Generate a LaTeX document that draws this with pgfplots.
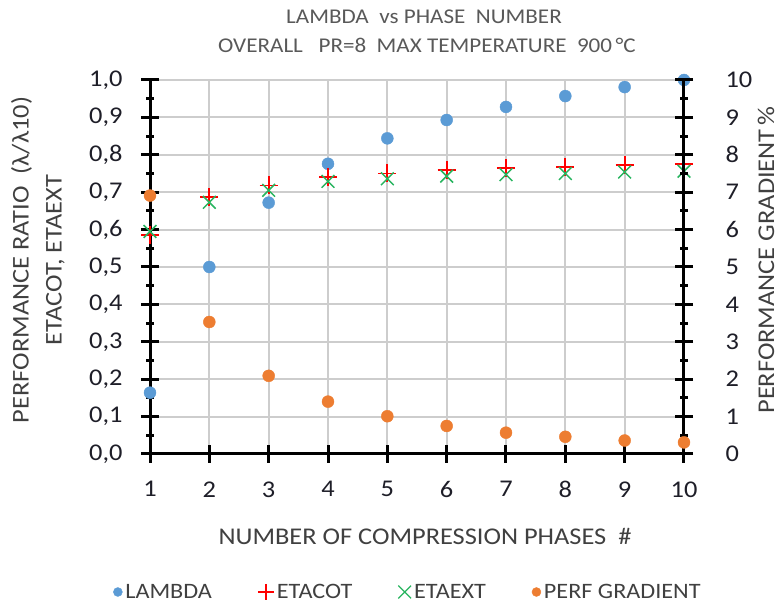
\documentclass[border=0pt]{standalone}
\usepackage{fontspec}
\setmainfont{Carlito}[FakeStretch=1.1]
\usepackage{pgfplots}
\pgfplotsset{compat=1.18}
\definecolor{lamblue}{RGB}{91,155,213}
\definecolor{perforange}{RGB}{237,125,49}
\definecolor{cotred}{RGB}{255,0,0}
\definecolor{extgreen}{RGB}{40,180,95}
\definecolor{gridgray}{RGB}{205,205,205}
\definecolor{titlecol}{RGB}{89,89,89}
\definecolor{labcol}{RGB}{64,64,64}
\definecolor{tickcol}{RGB}{30,30,40}

\begin{document}
\begin{tikzpicture}
% left axis: ratios
\begin{axis}[
  scale only axis,
  width=534pt, height=374pt,
  at={(150pt,150pt)}, anchor=south west,
  xmin=1, xmax=10, clip=false,
  axis x line*=bottom, axis y line*=left,
  axis line style={line width=3pt},
  tick style={line width=3pt, color=black},
  tick align=center, major tick length=18pt, minor tick length=8pt,
  ymin=0, ymax=1,
  xtick={1,2,3,4,5,6,7,8,9,10},
  ytick={0,0.1,0.2,0.3,0.4,0.5,0.6,0.7,0.8,0.9,1.0},
  minor ytick={0.05,0.15,0.25,0.35,0.45,0.55,0.65,0.75,0.85,0.95},
  grid=major, grid style={line width=2pt, gridgray},
  tick label style={font=\fontsize{24}{28}\selectfont, text=tickcol},
  xticklabel style={yshift=-15pt, /pgf/number format/assume math mode=true},
  yticklabel style={xshift=-15pt, /pgf/number format/.cd, fixed, fixed zerofill, precision=1, use comma, assume math mode=true},
  legend columns=4,
  legend style={draw=none, fill=none, font=\fontsize{22}{26}\selectfont, text=labcol,
    at={(axis description cs:0.5,0)}, anchor=center, yshift=-138pt, xshift=-9pt,
    /tikz/every even column/.append style={column sep=44pt},
    /tikz/every odd column/.append style={column sep=1pt}},
]
\addplot[forget plot, only marks, mark=*, mark size=6pt, color=lamblue]
  coordinates {(1,0.164)(2,0.500)(3,0.672)(4,0.776)(5,0.844)(6,0.893)(7,0.928)(8,0.957)(9,0.981)(10,1.000)};
\addplot[forget plot, only marks, mark=+, mark size=9pt, line width=1.8pt, color=cotred]
  coordinates {(1,0.585)(2,0.687)(3,0.718)(4,0.740)(5,0.750)(6,0.760)(7,0.764)(8,0.768)(9,0.773)(10,0.775)};
\addplot[forget plot, only marks, mark=x, mark size=9pt, line width=1.5pt, color=extgreen]
  coordinates {(1,0.595)(2,0.673)(3,0.705)(4,0.729)(5,0.736)(6,0.743)(7,0.747)(8,0.750)(9,0.754)(10,0.756)};
\addlegendimage{only marks, mark=*, mark size=4.5pt, color=lamblue}
\addlegendimage{only marks, mark=+, mark size=8pt, line width=1.2pt, color=cotred}
\addlegendimage{only marks, mark=x, mark size=9pt, line width=1.2pt, color=extgreen}
\addlegendimage{only marks, mark=*, mark size=4.5pt, color=perforange}
\legend{LAMBDA, ETACOT, ETAEXT, PERF GRADIENT}
\end{axis}
% right axis: performance gradient
\begin{axis}[
  scale only axis,
  width=534pt, height=374pt,
  at={(150pt,150pt)}, anchor=south west,
  xmin=1, xmax=10, clip=false,
  axis x line=none, axis y line*=right,
  axis line style={line width=3pt},
  tick style={line width=3pt, color=black},
  tick align=center, major tick length=18pt, minor tick length=8pt,
  ymin=0, ymax=10,
  ytick={0,1,2,3,4,5,6,7,8,9,10},
  minor ytick={0.5,1.5,2.5,3.5,4.5,5.5,6.5,7.5,8.5,9.5},
  tick label style={font=\fontsize{24}{28}\selectfont, text=tickcol},
  yticklabel style={xshift=29pt, /pgf/number format/assume math mode=true},
]
\addplot[only marks, mark=*, mark size=6pt, color=perforange]
  coordinates {(1,6.91)(2,3.53)(3,2.09)(4,1.40)(5,1.01)(6,0.75)(7,0.57)(8,0.46)(9,0.36)(10,0.31)};
\end{axis}
\node[font=\fontsize{21}{25}\selectfont, text=titlecol] at (424pt,587pt) {LAMBDA\ \ vs PHASE\ \ NUMBER};
\node[font=\fontsize{21}{25}\selectfont, text=titlecol] at (427pt,559pt) {OVERALL\ \ \ PR=8\ \ MAX TEMPERATURE\ \ 900\,°C};
\node[font=\fontsize{24}{28}\selectfont, text=labcol] at (425pt,68pt) {NUMBER OF COMPRESSION PHASES\ \ \#};
\node[rotate=90, align=center, font=\fontsize{24}{33}\selectfont, text=labcol] at (38pt,344pt)
  {PERFORMANCE RATIO\ \ (λ/λ10)\\ETACOT, ETAEXT};
\node[rotate=90, font=\fontsize{24}{28}\selectfont, text=labcol] at (766pt,344pt) {PERFORMANCE GRADIENT\,\%};
\pgfresetboundingbox
\path[use as bounding box] (0pt,0pt) rectangle (779pt,604pt);
\end{tikzpicture}
\end{document}
